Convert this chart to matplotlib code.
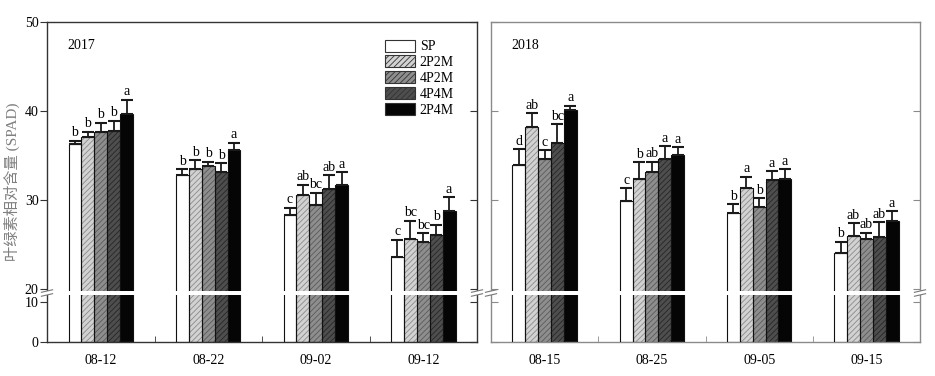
import numpy as np
import matplotlib
matplotlib.use('Agg')
import matplotlib.pyplot as plt
from matplotlib.patches import Patch, Rectangle
import matplotlib.transforms as mtransforms

# ---------------- data ----------------
treatments = ['SP', '2P2M', '4P2M', '4P4M', '2P4M']
dates_2017 = ['08-12', '08-22', '09-02', '09-12']
dates_2018 = ['08-15', '08-25', '09-05', '09-15']

sp_2017 = [36.3, 32.8, 28.3, 23.6]
p2p2m_2017 = [37.1, 33.5, 30.6, 25.6]
p4p2m_2017 = [37.6, 33.8, 29.4, 25.3]
p4p4m_2017 = [37.8, 33.1, 31.2, 26.1]
p2p4m_2017 = [39.7, 35.6, 31.7, 28.8]

sp_err_2017 = [0.37, 0.67, 0.82, 1.95]
p2p2m_err_2017 = [0.56, 0.97, 1.12, 2.06]
p4p2m_err_2017 = [1.08, 0.50, 1.42, 1.00]
p4p4m_err_2017 = [1.12, 1.05, 1.60, 1.12]
p2p4m_err_2017 = [1.57, 0.82, 1.42, 1.54]

sp_let_2017 = ['b', 'b', 'c', 'c']
p2p2m_let_2017 = ['b', 'b', 'ab', 'bc']
p4p2m_let_2017 = ['b', 'b', 'bc', 'bc']
p4p4m_let_2017 = ['b', 'b', 'ab', 'b']
p2p4m_let_2017 = ['a', 'a', 'a', 'a']

sp_2018 = [33.9, 29.9, 28.5, 24.0]
p2p2m_2018 = [38.2, 32.4, 31.4, 26.0]
p4p2m_2018 = [34.6, 33.1, 29.2, 25.65]
p4p4m_2018 = [36.4, 34.6, 32.3, 25.8]
p2p4m_2018 = [40.1, 35.1, 32.4, 27.6]

sp_err_2018 = [1.80, 1.46, 1.01, 1.31]
p2p2m_err_2018 = [1.57, 1.87, 1.24, 1.42]
p4p2m_err_2018 = [0.97, 1.20, 1.01, 0.67]
p4p4m_err_2018 = [2.13, 1.42, 0.97, 1.72]
p2p4m_err_2018 = [0.49, 0.86, 1.05, 1.12]

sp_let_2018 = ['d', 'c', 'b', 'b']
p2p2m_let_2018 = ['ab', 'b', 'a', 'ab']
p4p2m_let_2018 = ['c', 'ab', 'b', 'ab']
p4p4m_let_2018 = ['bc', 'a', 'a', 'ab']
p2p4m_let_2018 = ['a', 'a', 'a', 'a']

yticks = [0, 10, 20, 30, 40, 50]

# ---------------- style ----------------
plt.rcParams['font.family'] = ['Liberation Serif', 'Noto Sans CJK SC']
plt.rcParams['hatch.linewidth'] = 0.6

face_colors = ['white', '#d2d2d2', '#8e8e8e', '#4e4e4e', '#050505']
hatch_colors = ['white', '#8a8a8a', '#5a5a5a', '#262626', '#050505']
hatches = [None, '//////', '//////', '//////', None]

# broken-axis scale (piecewise linear)
YP = [-100, 0, 10, 20, 50, 200]
PX = [-400, 0, 40, 52.7, 319.7, 319.7 + 150 * 8.9]
def fwd(v):
    return np.interp(v, YP, PX)
def inv(p):
    return np.interp(p, PX, YP)

fig = plt.figure(figsize=(9.35, 3.76), dpi=100)
ax1 = fig.add_axes([47 / 935, (376 - 341.7) / 376, 430 / 935, 319.7 / 376])
ax2 = fig.add_axes([491 / 935, (376 - 341.7) / 376, 429 / 935, 319.7 / 376])

bw = 0.12

def draw_panel(ax, dates, vals, errs, lets, year, spine_color, left_labels):
    ax.set_yscale('function', functions=(fwd, inv))
    ax.set_xlim(0, 4)
    ax.set_ylim(0, 50)
    x = np.arange(len(dates)) + 0.5
    for k in range(5):
        xs = x + (k - 2) * bw
        v = np.array(vals[k])
        e = np.array(errs[k])
        ax.bar(xs, v, bw, color=face_colors[k], hatch=hatches[k],
               edgecolor=hatch_colors[k], linewidth=0, zorder=2)
        ax.bar(xs, v, bw, fill=False, edgecolor='#111111', linewidth=0.8, zorder=3)
        ax.errorbar(xs, v, yerr=[np.zeros_like(e), e], fmt='none',
                    ecolor='#1a1a1a', elinewidth=1.3, capsize=4, capthick=1.5, zorder=3)
        for xi, vi, ei, li in zip(xs, v, e, lets[k]):
            ax.annotate(li, (xi, vi + ei), xytext=(0, 1), textcoords='offset points',
                        ha='center', va='bottom', fontsize=10)
    ax.set_xticks(x, labels=dates)
    ax.set_xticks([1, 2, 3], minor=True)
    ax.tick_params(axis='x', which='major', length=0, pad=9, labelsize=10)
    ax.tick_params(axis='x', which='minor', direction='in', length=4, color=spine_color)
    ax.set_yticks(yticks)
    ax.yaxis.set_minor_locator(matplotlib.ticker.NullLocator())
    if left_labels:
        ax.tick_params(axis='y', direction='out', length=5, pad=1, labelsize=10,
                       color=spine_color)
    else:
        ax.tick_params(axis='y', direction='in', length=5, labelleft=False,
                       color=spine_color)
    for s in ax.spines.values():
        s.set_color(spine_color)
        s.set_linewidth(1.0)
    # right-side inward ticks
    axr = ax.twinx()
    axr.set_yscale('function', functions=(fwd, inv))
    axr.set_ylim(0, 50)
    axr.set_yticks(yticks)
    axr.yaxis.set_minor_locator(matplotlib.ticker.NullLocator())
    axr.tick_params(axis='y', direction='in', length=5, labelright=False, color=spine_color)
    for s in axr.spines.values():
        s.set_visible(False)
    # break band
    trans = mtransforms.blended_transform_factory(ax.transAxes, ax.transData)
    ax.add_patch(Rectangle((-0.004, 15.3), 1.008, 3.1, transform=trans,
                           facecolor='white', edgecolor='none', zorder=10, clip_on=False))
    for x0 in (0, 1):
        for yb in (15.3, 18.4):
            ax.plot([x0 - 0.013, x0 + 0.013], [yb - 1.0, yb + 1.0], transform=trans,
                    color='#777777', lw=0.8, clip_on=False, zorder=11)
    ax.text(0.047, 0.925, year, transform=ax.transAxes, fontsize=10, va='center')

draw_panel(ax1, dates_2017,
           [sp_2017, p2p2m_2017, p4p2m_2017, p4p4m_2017, p2p4m_2017],
           [sp_err_2017, p2p2m_err_2017, p4p2m_err_2017, p4p4m_err_2017, p2p4m_err_2017],
           [sp_let_2017, p2p2m_let_2017, p4p2m_let_2017, p4p4m_let_2017, p2p4m_let_2017],
           '2017', '#333333', True)
draw_panel(ax2, dates_2018,
           [sp_2018, p2p2m_2018, p4p2m_2018, p4p4m_2018, p2p4m_2018],
           [sp_err_2018, p2p2m_err_2018, p4p2m_err_2018, p4p4m_err_2018, p2p4m_err_2018],
           [sp_let_2018, p2p2m_let_2018, p4p2m_let_2018, p4p4m_let_2018, p2p4m_let_2018],
           '2018', '#8a8a8a', False)

handles = [Patch(facecolor=face_colors[k], hatch=hatches[k], edgecolor='#333333',
                 linewidth=0.8) for k in range(5)]
ax1.legend(handles, treatments, loc='upper left', bbox_to_anchor=(0.786, 0.945),
           frameon=False, fontsize=10, handlelength=2.15, handleheight=0.95,
           labelspacing=0.15, handletextpad=0.35, borderpad=0, borderaxespad=0)

fig.text(12 / 935, 0.5 + (376 / 2 - 181.5) / 376, '叶绿素相对含量 (SPAD)', rotation=90,
         ha='center', va='center', fontsize=11, color='#808080')

fig.savefig('out.png', dpi=100)
